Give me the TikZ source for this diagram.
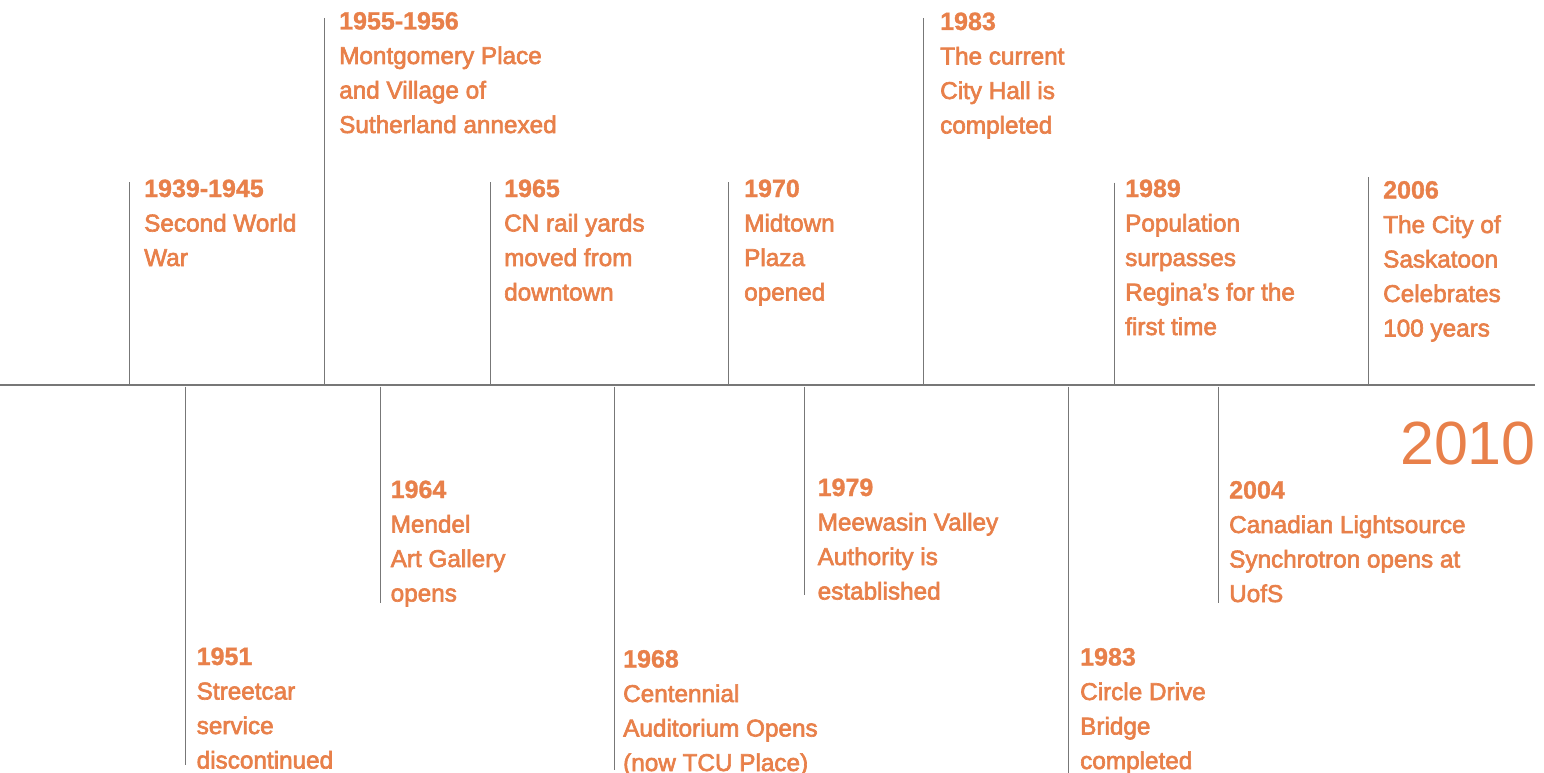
\documentclass[tikz,border=0pt]{standalone}
\usepackage{fontspec}
\setmainfont{Liberation Sans}
\newfontfamily\yrfont[RawFeature={embolden=1.2}]{Liberation Sans Bold}
\newfontfamily\bodyfont[RawFeature={embolden=2.6}]{Liberation Sans}
\definecolor{tlorange}{HTML}{E8804A}
\definecolor{tlgray}{HTML}{777777}
\newcommand{\tlevent}[5]{%
  \node[yearlbl] (#1) at (#2,#3) {#4};
  \foreach \ln [count=\i] in {#5}
    \node[bodylbl] (#1-\i) at (#2,#3+34.5*\i) {\ln};
}
\begin{document}
\begin{tikzpicture}[x=1pt,y=-1pt,
  yearlbl/.style={anchor=base west,inner sep=0pt,text=tlorange,font=\yrfont\fontsize{25}{30}\selectfont},
  bodylbl/.style={anchor=base west,inner sep=0pt,text=tlorange,font=\bodyfont\fontsize{24.3}{30}\selectfont},
  tick/.style={draw=tlgray,line width=1.3pt},
  axis/.style={draw=tlgray,line width=2pt}]
\useasboundingbox (0,0) rectangle (1544,773);
% axis
\coordinate (axL) at (0,385);
\coordinate (axR) at (1535,385);
\draw[axis] (axL) -- (axR);
% ticks above
\foreach \nm/\x/\t in {a/129.5/182, b/324.3/18, c/490.3/182, d/728.3/182, e/923.3/18, f/1114.3/182.5, g/1368.3/177}{
  \coordinate (\nm-top) at (\x,\t);
  \coordinate (\nm-bot) at (\x,383.5);
  \draw[tick] (\nm-top) -- (\nm-bot);
}
% ticks below
\foreach \nm/\x/\b in {h/185.7/765, i/380.3/603, j/614.3/770, k/804.3/595, l/1068.3/773, m/1218.7/602.5}{
  \coordinate (\nm-top) at (\x,386.5);
  \coordinate (\nm-bot) at (\x,\b);
  \draw[tick] (\nm-top) -- (\nm-bot);
}
% events above
\tlevent{ev1939}{144}{197}{1939-1945}{Second World,War}
\tlevent{ev1955}{339}{29.5}{1955-1956}{Montgomery Place,and Village of,Sutherland annexed}
\tlevent{ev1965}{504}{197}{1965}{CN rail yards,moved from,downtown}
\tlevent{ev1970}{744}{197}{1970}{Midtown,Plaza,opened}
\tlevent{ev1983a}{940}{30}{1983}{The current,City Hall is,completed}
\tlevent{ev1989}{1125}{197}{1989}{Population,surpasses,Regina’s for the,first time}
\tlevent{ev2006}{1383}{198.5}{2006}{The City of,Saskatoon,Celebrates,100 years}
% events below
\tlevent{ev1951}{196.5}{665}{1951}{Streetcar,service,discontinued}
\tlevent{ev1964}{390.5}{498}{1964}{Mendel,Art Gallery,opens}
\tlevent{ev1968}{623}{667.5}{1968}{Centennial,Auditorium Opens,(now TCU Place)}
\tlevent{ev1979}{817.5}{496}{1979}{Meewasin Valley,Authority is,established}
\tlevent{ev1983b}{1080}{665.5}{1983}{Circle Drive,Bridge,completed}
\tlevent{ev2004}{1229}{498.5}{2004}{Canadian Lightsource,Synchrotron opens at,UofS}
% final year
\node[anchor=base east,inner sep=0pt,text=tlorange,font=\fontsize{61}{70}\selectfont] (yr2010) at (1536,464) {2010};
\end{tikzpicture}
\end{document}
